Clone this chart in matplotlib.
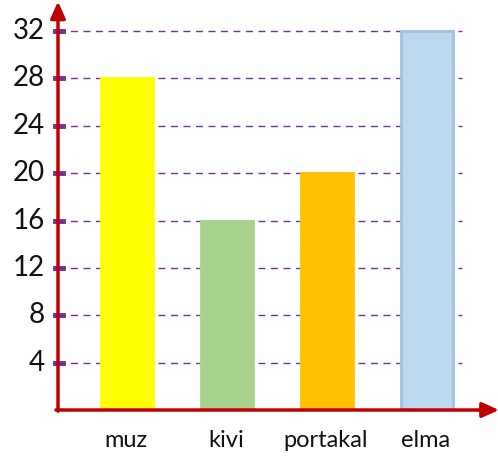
import matplotlib
matplotlib.use("Agg")
import matplotlib.pyplot as plt

# data
fruits = ["muz", "kivi", "portakal", "elma"]
counts = [28, 16, 20, 32]
ticks = [4, 8, 12, 16, 20, 24, 28, 32]
fills = ["#FFFF00", "#A9D18E", "#FFC000", "#BDD7EE"]
edges = ["#FFFF00", "#A9D18E", "#FFC000", "#9DC3E6"]

W, H = 498, 467
fig = plt.figure(figsize=(W / 100, H / 100), dpi=100)
ax = fig.add_axes([58 / W, (H - 410) / H, (W - 58) / W, (410 - 5) / H])
ax.set_xlim(-0.69, 3.71)
ax.set_ylim(0, 34.2)
ax.axis("off")

# dashed guide lines
for t in ticks:
    ax.plot([-0.69, 3.35], [t, t], color="#7030A0", lw=1, ls=(0, (5, 4)), zorder=1)
    ax.plot([-0.72, -0.64], [t, t], color="#7030A0", lw=3.5, zorder=4, clip_on=False)
    ax.text(-0.82, t, str(t), ha="right", va="center", fontsize=20,
            family="Lato", color="#111111")

x = list(range(len(fruits)))
ax.bar(x, counts, width=0.52, color=fills, edgecolor=edges, linewidth=2, zorder=2)

for i, name in enumerate(fruits):
    ax.text(i - 0.01, -2.6, name, ha="center", va="center", fontsize=17,
            family="Lato", color="#111111")

# red axes with arrow heads
red = "#C00000"
ax.annotate("", xy=(-0.69, 34.5), xytext=(-0.69, -0.1),
            arrowprops=dict(arrowstyle="-|>,head_width=0.45,head_length=1.0",
                            color=red, lw=2.5, shrinkA=0, shrinkB=0),
            annotation_clip=False, zorder=5)
ax.annotate("", xy=(3.72, 0), xytext=(-0.71, 0),
            arrowprops=dict(arrowstyle="-|>,head_width=0.45,head_length=1.0",
                            color=red, lw=2.5, shrinkA=0, shrinkB=0),
            annotation_clip=False, zorder=5)

fig.savefig("out.png", dpi=100)
